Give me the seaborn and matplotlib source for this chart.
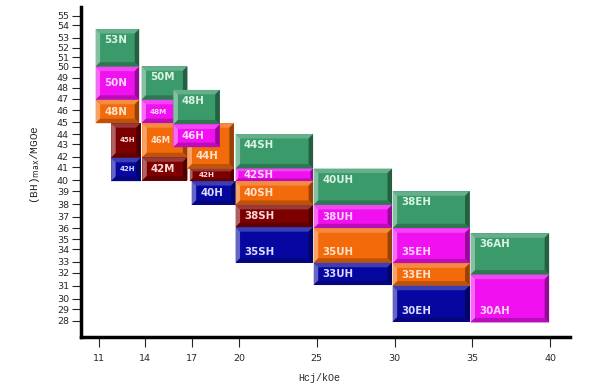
import numpy as np
import pandas as pd
import matplotlib
matplotlib.use("Agg")
import matplotlib.pyplot as plt
import seaborn as sns
from matplotlib.patches import Polygon
from matplotlib.transforms import IdentityTransform
from matplotlib.colors import to_rgb

# ---------------- data ----------------
grades = ['53N', '50N', '48N', '45H', '42H',
          '50M', '48M', '46M', '42M',
          '44H', '42H', '40H', '48H', '46H',
          '44SH', '42SH', '40SH', '38SH', '35SH',
          '40UH', '38UH', '35UH', '33UH',
          '38EH', '35EH', '33EH', '30EH',
          '36AH', '30AH']
hcj_min = [10.8, 10.8, 10.8, 11.8, 11.8,
           13.75, 13.75, 13.8, 13.8,
           16.7, 16.85, 16.97, 15.8, 15.8,
           19.79, 19.79, 19.79, 19.79, 19.79,
           24.81, 24.81, 24.81, 24.81,
           29.88, 29.88, 29.88, 29.88,
           34.88, 34.88]
hcj_max = [13.6, 13.6, 13.6, 13.7, 13.7,
           16.7, 16.7, 16.7, 16.7,
           19.68, 19.66, 19.79, 18.77, 18.77,
           24.77, 24.77, 24.77, 24.77, 24.77,
           29.84, 29.84, 29.84, 29.84,
           34.82, 34.82, 34.82, 34.82,
           39.93, 39.93]
bh_min = [50.0, 46.9, 44.9, 41.9, 39.9,
          46.9, 44.9, 41.95, 39.95,
          40.9, 39.9, 37.95, 44.8, 42.75,
          40.9, 39.9, 37.95, 36.1, 32.9,
          37.95, 36.0, 32.9, 31.05,
          36.0, 32.85, 31.0, 27.9,
          31.85, 27.85]
bh_max = [53.7, 50.0, 46.9, 44.9, 41.9,
          50.05, 46.9, 44.9, 41.95,
          44.9, 40.9, 39.9, 47.8, 44.8,
          44.0, 40.9, 39.9, 37.95, 36.1,
          40.9, 37.95, 36.0, 32.9,
          39.0, 36.0, 32.85, 31.0,
          35.55, 31.85]
family = ['g', 'm', 'o', 'r', 'b',
          'g', 'm', 'o', 'r',
          'o', 'r', 'b', 'g', 'm',
          'g', 'm', 'o', 'r', 'b',
          'g', 'm', 'o', 'b',
          'g', 'm', 'o', 'b',
          'g', 'm']
x_ticks = [11, 14, 17, 20, 25, 30, 35, 40]
y_ticks = list(range(28, 56))

# ---------------- styling ----------------
fill = {'g': '#3a9a6a', 'm': '#f010f0', 'o': '#f26a0a', 'r': '#7c0000', 'b': '#0606a0'}
txtc = {'g': '#d8f2e4', 'm': '#ffd4ff', 'o': '#ffe2cc', 'r': '#ffd8d8', 'b': '#dcdcff'}
label_pos = {0: 'top', 5: 'top', 12: 'top', 14: 'top', 19: 'top',
             23: 'top', 27: 'top', 18: 'bottom', 21: 'bottom',
             24: 'bottom', 26: 'bottom', 28: 'bottom', 9: 'bottom13'}
small_idx = {3: 5.0, 4: 5.0, 6: 5.2, 7: 6.0, 10: 5.2}

# uneven vertical tick spacing of the original drawing (pixel rows from top)
tick_vals = np.array([26.0] + list(range(28, 56)) + [57.0])
tick_px = np.array([344.0, 320.7, 309.3, 298.7, 285.7, 272.7, 261.7, 249.3, 239.3, 228.3,
                    216.7, 204.3, 191.3, 180.0, 167.3, 156.7, 144.0, 134.0, 122.0, 110.0,
                    98.7, 87.7, 77.7, 66.7, 57.3, 47.7, 37.7, 25.3, 15.7, -3.5])

def fwd(v):
    return -np.interp(v, tick_vals, tick_px)

def inv(y):
    return np.interp(-np.asarray(y), tick_px[::-1], tick_vals[::-1])

def px2val(p):
    return float(np.interp(p, tick_px[::-1], tick_vals[::-1]))

sns.set_style("ticks")
plt.rcParams['font.family'] = ['DejaVu Sans']

df = pd.DataFrame({'grade': grades, 'x0': hcj_min, 'x1': hcj_max,
                   'y0': bh_min, 'y1': bh_max, 'fam': family})

W, H = 615, 390
fig = plt.figure(figsize=(W / 100, H / 100), dpi=100)
L, R, T, B = 81.5, 570.0, 6.7, 336.7
ax = fig.add_axes([L / W, 1 - B / H, (R - L) / W, (B - T) / H])
ax.set_yscale('function', functions=(fwd, inv))
ax.set_xlim(9.895, 41.27)
ax.set_ylim(px2val(B), px2val(T))

for s in ['top', 'right']:
    ax.spines[s].set_visible(False)
for s in ['left', 'bottom']:
    ax.spines[s].set_linewidth(2.5)
    ax.spines[s].set_color('black')

ax.set_xticks(x_ticks)
ax.set_xticklabels([str(t) for t in x_ticks])
ax.set_yticks(y_ticks)
ax.set_yticklabels([str(t) for t in y_ticks])
ax.yaxis.set_minor_locator(matplotlib.ticker.NullLocator())
ax.tick_params(axis='y', length=6.5, width=0.8, pad=2.5, labelsize=6.8)
ax.tick_params(axis='x', length=7.5, width=0.8, pad=5, labelsize=6.8)

# draw blocks
bars = ax.bar(df['x0'], df['y1'] - df['y0'], width=df['x1'] - df['x0'],
              bottom=df['y0'], align='edge',
              color=[fill[f] for f in df['fam']], linewidth=0, zorder=2)

def mix(c, other, t):
    c = np.array(to_rgb(c)); o = np.array(to_rgb(other))
    return tuple(c * (1 - t) + o * t)

fig.canvas.draw()
for i, row in df.iterrows():
    z = 2 + i * 0.01
    bars[i].set_zorder(z)
    (px0, py0) = ax.transData.transform((row.x0, row.y0))
    (px1, py1) = ax.transData.transform((row.x1, row.y1))
    b = min(4.5, 0.22 * (py1 - py0), 0.22 * (px1 - px0))
    c = fill[row.fam]
    polys = [
        ([(px0, py1), (px1, py1), (px1 - b, py1 - b), (px0 + b, py1 - b)], mix(c, 'white', 0.22)),
        ([(px0, py0), (px0, py1), (px0 + b, py1 - b), (px0 + b, py0 + b)], mix(c, 'white', 0.38)),
        ([(px1, py0), (px1, py1), (px1 - b, py1 - b), (px1 - b, py0 + b)], mix(c, 'black', 0.38)),
        ([(px0, py0), (px1, py0), (px1 - b, py0 + b), (px0 + b, py0 + b)], mix(c, 'black', 0.22)),
    ]
    for pts, col in polys:
        ax.add_patch(Polygon(pts, closed=True, facecolor=col, edgecolor='none',
                             transform=IdentityTransform(), zorder=z + 0.001))
    pos = label_pos.get(i, 'center')
    fs = small_idx.get(i, 7.4)
    if pos == 'top':
        ty = py1 - 11
    elif pos == 'bottom':
        ty = py0 + 11
    elif pos == 'bottom13':
        ty = py0 + 13
    else:
        ty = (py0 + py1) / 2
    ax.text(px0 + 8.5, ty, row.grade, transform=IdentityTransform(),
            ha='left', va='center', fontsize=fs, fontweight='bold',
            color=txtc[row.fam], zorder=z + 0.002)

ax.text(-0.095, 0.523, r'(BH)$_{\mathrm{max}}$/MGOe', transform=ax.transAxes,
        rotation=90, ha='center', va='center', fontsize=8,
        family=['Liberation Mono', 'DejaVu Sans'])
ax.text(0.486, -0.125, 'Hcj/kOe', transform=ax.transAxes,
        ha='center', va='center', fontsize=7.2, family=['Liberation Mono', 'DejaVu Sans'])

fig.savefig('out.png', dpi=100)
